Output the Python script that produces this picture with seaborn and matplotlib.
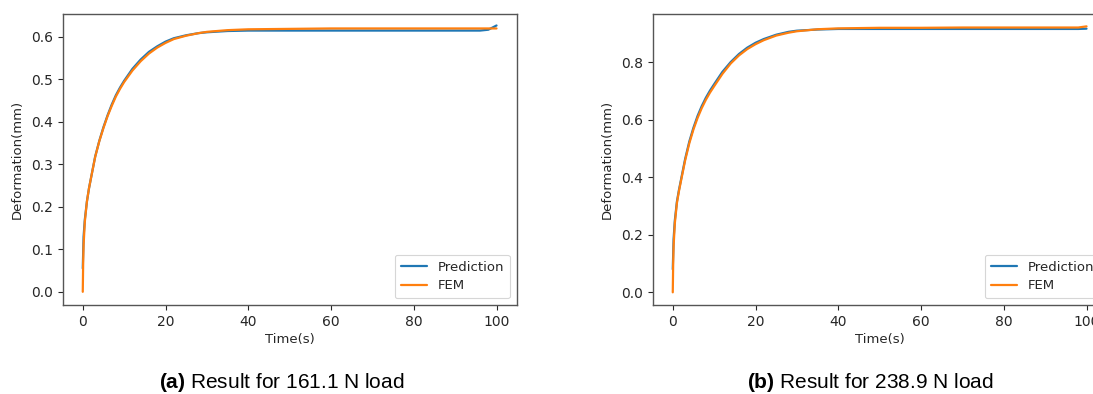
import numpy as np
import pandas as pd
import matplotlib
matplotlib.use("Agg")
import matplotlib.pyplot as plt
import seaborn as sns

# ---- data ----
series_names = ["Prediction", "FEM"]
line_colors = ["#1f77b4", "#ff7f0e"]

time_pred = [0, 0.2, 0.5, 1, 1.5, 2, 3, 4, 5, 6, 7, 8, 9, 10, 12, 14, 16, 18, 20, 22,
             25, 28, 30, 35, 40, 50, 60, 70, 80, 90, 96, 98, 100]
pred_a = [0.055, 0.13, 0.17, 0.212, 0.243, 0.268, 0.318, 0.355, 0.387, 0.415,
          0.440, 0.462, 0.480, 0.496, 0.524, 0.546, 0.564, 0.577, 0.588, 0.596,
          0.603, 0.608, 0.610, 0.613, 0.614, 0.614, 0.614, 0.614, 0.614, 0.614,
          0.614, 0.616, 0.626]
pred_b = [0.080, 0.185, 0.250, 0.315, 0.356, 0.392, 0.464, 0.524, 0.572, 0.613,
          0.647, 0.676, 0.701, 0.723, 0.766, 0.800, 0.828, 0.850, 0.867, 0.880,
          0.895, 0.905, 0.909, 0.913, 0.915, 0.915, 0.915, 0.915, 0.915, 0.915,
          0.915, 0.915, 0.916]

time_fem_a = [0, 0.1, 0.2, 0.5, 1, 1.5, 2, 3, 4, 5, 6, 7, 8, 9, 10, 12, 14, 16, 18, 20,
              22, 25, 28, 30, 35, 40, 50, 60, 70, 80, 90, 100]
fem_a = [0.0, 0.07, 0.11, 0.165, 0.212, 0.243, 0.268, 0.317, 0.354, 0.385,
         0.413, 0.437, 0.459, 0.477, 0.493, 0.520, 0.542, 0.560, 0.574, 0.585,
         0.594, 0.602, 0.608, 0.611, 0.615, 0.617, 0.618, 0.619, 0.619, 0.619,
         0.619, 0.619]

time_fem_b = [0, 0.1, 0.2, 0.5, 1, 1.5, 2, 3, 4, 5, 6, 7, 8, 9, 10, 12, 14, 16, 18, 20,
              22, 25, 28, 30, 35, 40, 50, 60, 70, 80, 90, 98, 100]
fem_b = [0.0, 0.10, 0.16, 0.24, 0.31, 0.352, 0.388, 0.459, 0.518, 0.566,
         0.606, 0.640, 0.669, 0.694, 0.716, 0.759, 0.795, 0.823, 0.845, 0.862,
         0.876, 0.892, 0.902, 0.907, 0.914, 0.917, 0.919, 0.919, 0.920, 0.920,
         0.920, 0.920, 0.924]

captions = [r"$\mathbf{(a)}$ Result for 161.1 N load",
            r"$\mathbf{(b)}$ Result for 238.9 N load"]
x_label = "Time(s)"
y_label = "Deformation(mm)"
xticks = [0, 20, 40, 60, 80, 100]
yticks_a = [0.0, 0.1, 0.2, 0.3, 0.4, 0.5, 0.6]
yticks_b = [0.0, 0.2, 0.4, 0.6, 0.8]

# ---- style ----
sns.set_theme(style="ticks")
plt.rcParams["font.family"] = ["DejaVu Sans"]
plt.rcParams["mathtext.fontset"] = "custom"
plt.rcParams["mathtext.rm"] = "Liberation Sans"
plt.rcParams["mathtext.bf"] = "Liberation Sans:bold"

FS_TICK = 10
FS_LAB = 9.5
TXT = "#262626"

def long_df(tp, yp, tf, yf):
    return pd.concat([
        pd.DataFrame({"t": tp, "v": yp, "series": series_names[0]}),
        pd.DataFrame({"t": tf, "v": yf, "series": series_names[1]}),
    ], ignore_index=True)

df_a = long_df(time_pred, pred_a, time_fem_a, fem_a)
df_b = long_df(time_pred, pred_b, time_fem_b, fem_b)

fig = plt.figure(figsize=(10.93, 3.94), dpi=100)
ax_a = fig.add_axes([0.0574, 0.2259, 0.4152, 0.7386])
ax_b = fig.add_axes([0.5972, 0.2259, 0.4152, 0.7386])

for ax, df, yt, ylim in [(ax_a, df_a, yticks_a, (-0.031, 0.653)),
                         (ax_b, df_b, yticks_b, (-0.044, 0.967))]:
    sns.lineplot(data=df, x="t", y="v", hue="series", hue_order=series_names,
                 palette=line_colors, estimator=None, sort=False,
                 linewidth=1.6, ax=ax)
    ax.set_xlim(-4.84, 104.84)
    ax.set_ylim(*ylim)
    ax.set_xticks(xticks)
    ax.set_yticks(yt)
    ax.set_xticklabels([str(x) for x in xticks])
    ax.set_yticklabels([f"{y:.1f}" for y in yt])
    ax.set_xlabel(x_label, fontsize=FS_LAB, color=TXT, labelpad=3)
    ax.set_ylabel(y_label, fontsize=FS_LAB, color=TXT, labelpad=5)
    ax.tick_params(labelsize=FS_TICK, colors=TXT, length=3.5, width=0.8, direction="out")
    for s in ax.spines.values():
        s.set_color("#555555")
        s.set_linewidth(1.0)
    leg = ax.legend(loc="lower right", fontsize=FS_LAB, frameon=True, fancybox=True,
                    borderpad=0.45, handlelength=2.0, labelspacing=0.45)
    leg.get_frame().set_edgecolor("#cccccc")
    leg.get_frame().set_linewidth(0.8)
    for t in leg.get_texts():
        t.set_color(TXT)

fig.text(282 / 1093, 1 - 382 / 394, captions[0], ha="center", va="center",
         fontsize=15, family="Liberation Sans", color="black")
fig.text(870 / 1093, 1 - 382 / 394, captions[1], ha="center", va="center",
         fontsize=15, family="Liberation Sans", color="black")

fig.savefig("out.png", dpi=100)
